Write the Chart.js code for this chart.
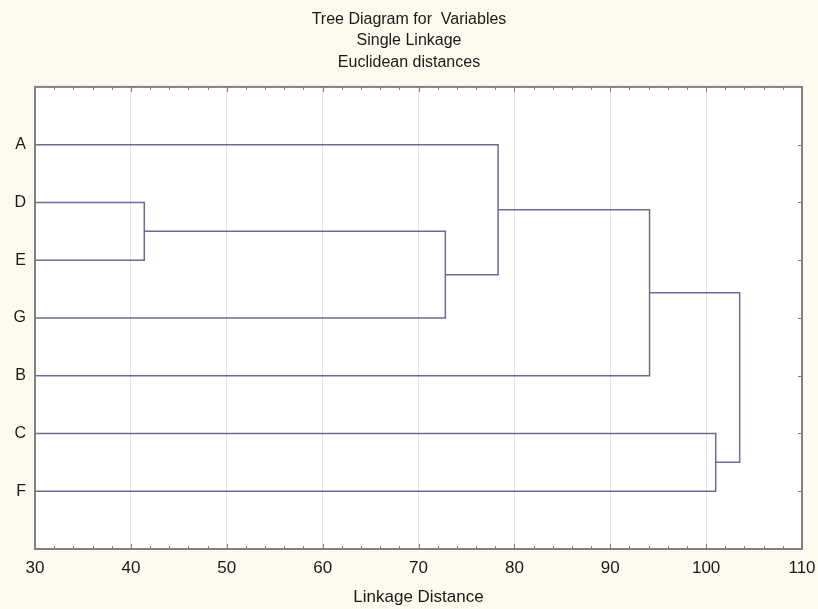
<!DOCTYPE html>
<html lang="en">
  <head>
    <meta charset="UTF-8" />
    <title>Tree Diagram for Variables</title>
    <style>
      html, body { margin: 0; padding: 0; background: #fdf9ee; }
      #box { width: 818px; height: 609px; }
    </style>
  </head>
  <body>
    <div id="box"><canvas id="tree"></canvas></div>
    <script src="https://cdn.jsdelivr.net/npm/chart.js"></script>
    <script>
      // leaves in plot order (top to bottom)
      const leaves = ["A", "D", "E", "G", "B", "C", "F"];
      // merge steps: nodes 0..6 are leaves, each merge makes node 7, 8, ...
      const mergeLeft = [1, 7, 0, 9, 5, 10];
      const mergeRight = [2, 3, 8, 4, 6, 11];
      const mergeDist = [41.4, 72.8, 78.3, 94.1, 101.0, 103.5];
      const xTicksMin = 30;
      const xTicksMax = 110;

      const lineColor = "#6c6c90";
      const textFont = "Liberation Sans, Arial";

      // build the U shaped links of the dendrogram
      const nodePos = leaves.map((l, i) => i);
      const nodeHeight = leaves.map(() => xTicksMin);
      const links = [];
      mergeDist.forEach((d, i) => {
        const a = mergeLeft[i], b = mergeRight[i];
        links.push({
          data: [
            { x: nodeHeight[a], y: nodePos[a] },
            { x: d, y: nodePos[a] },
            { x: d, y: nodePos[b] },
            { x: nodeHeight[b], y: nodePos[b] },
          ],
          borderColor: lineColor,
          borderWidth: 1.5,
          pointRadius: 0,
          showLine: true,
          tension: 0,
        });
        nodePos.push((nodePos[a] + nodePos[b]) / 2);
        nodeHeight.push(d);
      });

      const framePlugin = {
        id: "frame",
        beforeDraw(chart) {
          const { ctx, chartArea: a } = chart;
          ctx.save();
          ctx.fillStyle = "#fdf9ee";
          ctx.fillRect(0, 0, chart.width, chart.height);
          ctx.fillStyle = "#ffffff";
          ctx.fillRect(a.left, a.top, a.right - a.left, a.bottom - a.top);
          ctx.restore();
        },
        afterDraw(chart) {
          const { ctx, chartArea: a, scales } = chart;
          ctx.save();
          ctx.strokeStyle = "#7a7a7a";
          ctx.lineWidth = 1;
          ctx.beginPath();
          // minor ticks top and bottom, every 2
          for (let v = xTicksMin; v <= xTicksMax; v += 2) {
            const x = Math.round(scales.x.getPixelForValue(v)) + 0.5;
            const len = v % 10 === 0 ? 5 : 3;
            ctx.moveTo(x, a.bottom);
            ctx.lineTo(x, a.bottom - len);
            ctx.moveTo(x, a.top);
            ctx.lineTo(x, a.top + len);
          }
          // right side ticks at each leaf
          leaves.forEach((l, i) => {
            const y = Math.round(scales.y.getPixelForValue(i)) + 0.5;
            ctx.moveTo(a.right, y);
            ctx.lineTo(a.right - 4, y);
          });
          ctx.stroke();
          ctx.lineWidth = 2;
          ctx.strokeStyle = "#808080";
          ctx.strokeRect(a.left, a.top, a.right - a.left, a.bottom - a.top);
          ctx.restore();
        },
      };

      new Chart(document.getElementById("tree"), {
        type: "scatter",
        data: { datasets: links },
        plugins: [framePlugin],
        options: {
          responsive: true,
          maintainAspectRatio: false,
          animation: false,
          layout: { padding: 0 },
          plugins: {
            legend: { display: false },
            tooltip: { enabled: false },
            title: {
              display: true,
              text: ["Tree Diagram for  Variables", "Single Linkage", "Euclidean distances"],
              color: "#1a1a1a",
              font: { family: textFont, size: 16, weight: "normal", lineHeight: 21.3 / 16 },
              padding: { top: 9, bottom: 14 },
            },
          },
          scales: {
            x: {
              type: "linear",
              min: xTicksMin,
              max: xTicksMax,
              afterFit: (s) => {
                s.height = 60;
                s.paddingLeft = 0;
                s.paddingRight = 16;
              },
              border: { display: false },
              grid: {
                drawTicks: false,
                color: (c) => (c.tick && c.tick.value % 10 === 0 ? "#e3e3ee" : "rgba(0,0,0,0)"),
              },
              ticks: {
                stepSize: 2,
                autoSkip: false,
                maxRotation: 0,
                padding: 9,
                color: "#1a1a1a",
                font: { family: textFont, size: 17 },
                callback: (v) => (v % 10 === 0 ? v : ""),
              },
              title: {
                display: true,
                text: "Linkage Distance",
                color: "#1a1a1a",
                font: { family: textFont, size: 17 },
                padding: { top: 0, bottom: 1 },
              },
            },
            y: {
              type: "linear",
              min: -1,
              max: 7,
              reverse: true,
              afterFit: (s) => { s.width = 35; },
              border: { display: false },
              grid: { display: false, drawTicks: false },
              ticks: {
                stepSize: 1,
                padding: 9,
                color: "#1a1a1a",
                font: { family: textFont, size: 16 },
                callback: (v) => (leaves[v] !== undefined ? leaves[v] : ""),
              },
            },
          },
        },
      });
    </script>
  </body>
</html>
